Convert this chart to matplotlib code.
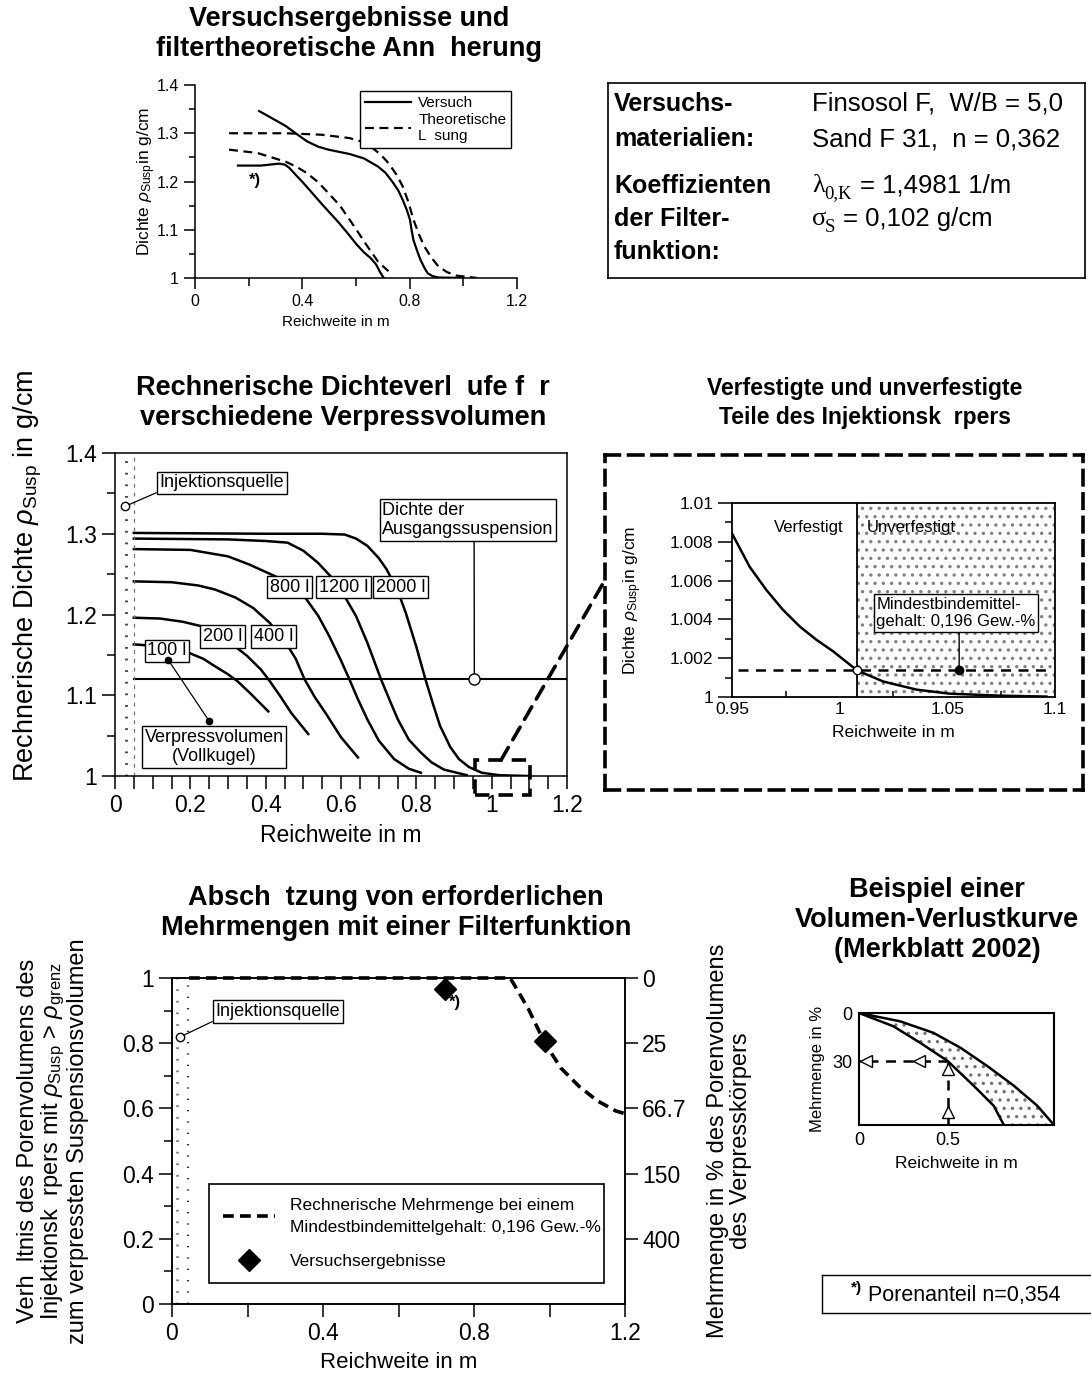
import numpy as np
import matplotlib
matplotlib.use('Agg')
import matplotlib.pyplot as plt
from matplotlib import font_manager
from matplotlib.patches import Rectangle, Polygon, ConnectionPatch
from matplotlib.lines import Line2D

# ---------------- data ----------------
# top left: test results vs. filter theory
vers_upper_x = [0.239, 0.30, 0.338, 0.38, 0.418, 0.46, 0.497, 0.576, 0.629, 0.682, 0.71, 0.735, 0.757, 0.774, 0.79, 0.801, 0.807, 0.814, 0.828, 0.84, 0.855, 0.867, 0.885, 0.907, 1.0]
vers_upper_y = [1.346, 1.327, 1.315, 1.298, 1.283, 1.272, 1.266, 1.257, 1.248, 1.231, 1.218, 1.200, 1.182, 1.162, 1.140, 1.121, 1.100, 1.079, 1.056, 1.038, 1.021, 1.010, 1.004, 1.001, 1.0]
vers_lower_x = [0.16, 0.246, 0.312, 0.335, 0.352, 0.375, 0.404, 0.47, 0.537, 0.57, 0.603, 0.63, 0.655, 0.675, 0.69, 0.702]
vers_lower_y = [1.233, 1.233, 1.237, 1.235, 1.228, 1.214, 1.197, 1.155, 1.114, 1.092, 1.069, 1.053, 1.041, 1.028, 1.012, 1.001]
theo_upper_x = [0.127, 0.338, 0.47, 0.576, 0.62, 0.655, 0.69, 0.721, 0.75, 0.774, 0.795, 0.814, 0.835, 0.854, 0.88, 0.907, 0.94, 0.973, 1.052]
theo_upper_y = [1.300, 1.300, 1.297, 1.290, 1.283, 1.272, 1.257, 1.238, 1.215, 1.190, 1.158, 1.121, 1.090, 1.066, 1.043, 1.024, 1.012, 1.005, 1.000]
theo_lower_x = [0.127, 0.233, 0.338, 0.38, 0.418, 0.46, 0.497, 0.54, 0.576, 0.61, 0.642, 0.682, 0.721]
theo_lower_y = [1.266, 1.259, 1.241, 1.230, 1.217, 1.198, 1.176, 1.150, 1.121, 1.093, 1.066, 1.034, 1.014]

# middle left: computed density curves per grouting volume
vol_labels = ['100 l', '200 l', '400 l', '800 l', '1200 l', '2000 l']
curve_x = [
    [0.05, 0.08, 0.194, 0.235, 0.265, 0.30, 0.326, 0.36, 0.407],
    [0.05, 0.12, 0.18, 0.225, 0.27, 0.306, 0.35, 0.387, 0.407, 0.44, 0.468, 0.513],
    [0.05, 0.15, 0.22, 0.265, 0.32, 0.367, 0.41, 0.448, 0.48, 0.503, 0.53, 0.559, 0.60, 0.645],
    [0.05, 0.20, 0.30, 0.356, 0.427, 0.47, 0.508, 0.54, 0.569, 0.60, 0.622, 0.645, 0.67, 0.70, 0.741, 0.78, 0.812],
    [0.05, 0.30, 0.40, 0.458, 0.50, 0.539, 0.589, 0.64, 0.67, 0.706, 0.73, 0.751, 0.78, 0.812, 0.84, 0.873, 0.934],
    [0.05, 0.40, 0.55, 0.61, 0.64, 0.67, 0.70, 0.721, 0.75, 0.772, 0.80, 0.824, 0.845, 0.863, 0.89, 0.913, 0.94, 0.974, 1.02, 1.096],
]
curve_y = [
    [1.163, 1.162, 1.153, 1.145, 1.136, 1.126, 1.117, 1.102, 1.080],
    [1.196, 1.195, 1.191, 1.186, 1.176, 1.165, 1.149, 1.132, 1.120, 1.098, 1.078, 1.052],
    [1.241, 1.240, 1.236, 1.231, 1.221, 1.208, 1.190, 1.169, 1.145, 1.120, 1.098, 1.078, 1.048, 1.023],
    [1.281, 1.280, 1.272, 1.262, 1.247, 1.236, 1.219, 1.198, 1.173, 1.143, 1.120, 1.095, 1.070, 1.044, 1.021, 1.009, 1.004],
    [1.294, 1.293, 1.291, 1.289, 1.279, 1.264, 1.239, 1.198, 1.165, 1.120, 1.093, 1.070, 1.045, 1.029, 1.017, 1.008, 1.001],
    [1.301, 1.300, 1.300, 1.299, 1.294, 1.285, 1.270, 1.256, 1.230, 1.202, 1.160, 1.120, 1.088, 1.062, 1.036, 1.021, 1.011, 1.004, 1.001, 1.000],
]
vol_label_x = [0.138, 0.286, 0.421, 0.464, 0.607, 0.758]
vol_label_y = [1.155, 1.173, 1.173, 1.234, 1.234, 1.234]
ausgang_x = [0.05, 1.2]
ausgang_y = [1.12, 1.12]

# middle right: zoom of the density tail
zoom_x = [0.95, 0.9582, 0.966, 0.9737, 0.9815, 0.9892, 0.997, 1.0081, 1.0202, 1.0357, 1.0512, 1.0744, 1.0961]
zoom_y = [1.00843, 1.00671, 1.00551, 1.00449, 1.00363, 1.00295, 1.00235, 1.00137, 1.0008, 1.00038, 1.00017, 1.00007, 1.00002]
grenz_x = 1.0081
grenz_y = 1.00137

# bottom left: required extra quantity
mehr_x = [0.045, 0.896, 0.92, 0.945, 0.987, 1.03, 1.078, 1.127, 1.176, 1.2]
mehr_y = [1.0, 1.0, 0.953, 0.903, 0.802, 0.724, 0.668, 0.623, 0.592, 0.584]
test_x = [0.723, 0.987]
test_y = [0.966, 0.808]
right_ticks = [1.0, 0.8, 0.6, 0.4, 0.2]
right_labels = ['0', '25', '66.7', '150', '400']

# bottom right: example volume loss curve
inner_x = [0.0, 0.194, 0.345, 0.5, 0.647, 0.76, 0.817]
inner_y = [0.0, 8.3, 18.6, 30.0, 45.5, 58.0, 70.0]
outer_x = [0.0, 0.232, 0.42, 0.572, 0.723, 0.874, 1.006, 1.1]
outer_y = [0.0, 5.2, 12.4, 21.7, 33.1, 45.5, 58.0, 70.0]

# ---------------- fonts ----------------
names = {f.name for f in font_manager.fontManager.ttflist}
SANS = 'Liberation Sans' if 'Liberation Sans' in names else 'DejaVu Sans'
NARROW = 'Liberation Sans Narrow' if 'Liberation Sans Narrow' in names else SANS
SERIF = 'Liberation Serif' if 'Liberation Serif' in names else 'DejaVu Serif'

plt.rcParams['font.family'] = [SANS, 'DejaVu Sans']
plt.rcParams['mathtext.fontset'] = 'custom'
plt.rcParams['mathtext.rm'] = SANS
plt.rcParams['mathtext.it'] = SANS + ':italic'
plt.rcParams['mathtext.bf'] = SANS + ':bold'
plt.rcParams['axes.linewidth'] = 1.1
plt.rcParams['hatch.linewidth'] = 1.2

W, H = 1091, 1386
fig = plt.figure(figsize=(W / 100, H / 100), dpi=100)


def box(l, t, r, b):
    return [l / W, 1 - b / H, (r - l) / W, (b - t) / H]


def fy(py):
    return 1 - py / H


def ticks(ax, size, major=9, minor=5):
    ax.tick_params(which='both', direction='out', labelsize=size, width=1.1)
    ax.tick_params(which='major', length=major)
    ax.tick_params(which='minor', length=minor)


label_box = dict(boxstyle='square,pad=0.15', fc='white', ec='black', lw=1.0)
title_kw = dict(ha='center', va='center', fontweight='bold', fontsize=19.5, linespacing=1.18)

# ---------------- top left ----------------
ax1 = fig.add_axes(box(195, 85, 517, 278))
ax1.plot(vers_upper_x, vers_upper_y, color='k', lw=1.6)
ax1.plot(vers_lower_x, vers_lower_y, color='k', lw=1.6)
ax1.plot(theo_upper_x, theo_upper_y, color='k', lw=1.6, dashes=(4, 2.5))
ax1.plot(theo_lower_x, theo_lower_y, color='k', lw=1.6, dashes=(4, 2.5))
ax1.text(0.222, 1.203, '*)', fontsize=12, fontweight='bold', ha='center', va='center')
ax1.set_xlim(0, 1.2)
ax1.set_ylim(1, 1.4)
ax1.set_xticks([0, 0.4, 0.8, 1.2], ['0', '0.4', '0.8', '1.2'])
ax1.set_xticks(np.arange(0, 1.21, 0.2), minor=True)
ax1.set_yticks([1, 1.1, 1.2, 1.3, 1.4], ['1', '1.1', '1.2', '1.3', '1.4'])
ax1.set_yticks(np.arange(1, 1.41, 0.05), minor=True)
ticks(ax1, 11.5, 8, 4.5)
ax1.tick_params(axis='x', which='minor', length=6)
ax1.spines['top'].set_visible(False)
ax1.spines['right'].set_visible(False)
fig.text(336 / W, fy(322), 'Reichweite in m', fontsize=11, ha='center', va='center')
ax1.text(-0.15, 0.5, r'Dichte $\rho_{\mathrm{Susp}}$in g/cm', rotation=90, transform=ax1.transAxes,
         ha='center', va='center', fontsize=12.5)
leg = ax1.legend([Line2D([], [], color='k', lw=1.6), Line2D([], [], color='k', lw=1.6, dashes=(4, 2.5))],
                 ['Versuch', 'Theoretische\nL  sung'], loc='upper right', bbox_to_anchor=(0.981, 0.967),
                 fontsize=11, frameon=True, fancybox=False, edgecolor='black', framealpha=1,
                 handlelength=3.0, handletextpad=0.5, borderpad=0.3, labelspacing=0.2, borderaxespad=0)
leg.get_frame().set_linewidth(1.0)
fig.text(349 / W, fy(34), 'Versuchsergebnisse und\nfiltertheoretische Ann  herung', **title_kw)

# ---------------- text box top right ----------------
axb = fig.add_axes(box(608, 83, 1085, 278))
axb.set_xticks([])
axb.set_yticks([])
axb.set_xlim(608, 1085)
axb.set_ylim(278, 83)
for s in axb.spines.values():
    s.set_linewidth(1.2)
bold_rows = [('Versuchs-', 104), ('materialien:', 139), ('Koeffizienten', 186), ('der Filter-', 219), ('funktion:', 252)]
for txt, py in bold_rows:
    axb.text(614, py, txt, fontsize=18, fontweight='bold', va='center', ha='left')
axb.text(812, 104, 'Finsosol F,  W/B = 5,0', fontsize=18.5, va='center', ha='left')
axb.text(812, 139, 'Sand F 31,  n = 0,362', fontsize=18.5, va='center', ha='left')
axb.text(812, 186, 'λ', fontsize=19, family=SERIF, va='center', ha='left')
axb.text(824, 194, '0,K', fontsize=13.5, family=SERIF, va='center', ha='left')
axb.text(860, 186, '= 1,4981 1/m', fontsize=18.5, va='center', ha='left')
axb.text(812, 219, 'σ', fontsize=19, family=SERIF, va='center', ha='left')
axb.text(825, 227, 'S', fontsize=13.5, family=SERIF, va='center', ha='left')
axb.text(843, 219, '= 0,102 g/cm', fontsize=18.5, va='center', ha='left')

# ---------------- middle left ----------------
ax2 = fig.add_axes(box(115, 453, 567, 776))
for xs, ys in zip(curve_x, curve_y):
    ax2.plot(xs, ys, color='k', lw=1.8)
ax2.plot(ausgang_x, ausgang_y, color='k', lw=1.5)
ax2.axvline(0.029, color='0.3', lw=2.2, ls=(0, (0.6, 3.2)))
ax2.axvline(0.05, color='0.45', lw=0.9, ls=(0, (3, 4)))
for lab, lx, ly in zip(vol_labels, vol_label_x, vol_label_y):
    ax2.text(lx, ly, lab, family=NARROW, fontsize=13, ha='center', va='center', bbox=label_box, zorder=5)
ax2.annotate('Injektionsquelle', xy=(0.027, 1.334), xytext=(0.118, 1.363), family=NARROW, fontsize=13,
             ha='left', va='center', bbox=label_box,
             arrowprops=dict(arrowstyle='-', lw=0.9, color='k', shrinkA=0, shrinkB=3, relpos=(0, 0)))
ax2.plot([0.027], [1.334], 'o', ms=6, mfc='white', mec='k', mew=1.0)
ax2.annotate('Dichte der\nAusgangssuspension', xy=(0.954, 1.12), xytext=(0.937, 1.317), family=NARROW,
             fontsize=13, ha='center', va='center', multialignment='left', bbox=dict(label_box, pad=0.3),
             arrowprops=dict(arrowstyle='-', lw=1.0, color='k', shrinkA=0, shrinkB=4, relpos=(0.536, 0)))
ax2.plot([0.954], [1.12], 'o', ms=8, mfc='white', mec='k', mew=1.0, zorder=6)
ax2.text(0.263, 1.036, 'Verpressvolumen\n(Vollkugel)', family=NARROW, fontsize=13, ha='center', va='center',
         bbox=dict(label_box, pad=0.3), zorder=5)
ax2.plot([0.141, 0.25], [1.144, 1.068], color='k', lw=0.9, marker='o', ms=4.5, zorder=6)
ax2.add_patch(Rectangle((0.957, 0.9765), 0.144, 0.0433, fill=False, ec='k', lw=2.6,
                        ls=(0, (4, 2.5)), clip_on=False, zorder=7))
ax2.set_xlim(0, 1.2)
ax2.set_ylim(1, 1.4)
ax2.set_xticks(np.arange(0, 1.21, 0.2), ['0', '0.2', '0.4', '0.6', '0.8', '1', '1.2'])
ax2.set_xticks(np.arange(0, 1.21, 0.05), minor=True)
ax2.set_yticks([1, 1.1, 1.2, 1.3, 1.4], ['1', '1.1', '1.2', '1.3', '1.4'])
ax2.set_yticks(np.arange(1, 1.41, 0.05), minor=True)
ticks(ax2, 16.5, 9.5, 5.5)
ax2.tick_params(axis='x', which='minor', length=9.5)
ax2.set_xlabel('Reichweite in m', fontsize=16.5, labelpad=5)
ax2.text(-0.193, 0.62, r'Rechnerische Dichte $\rho_{\mathrm{Susp}}$ in g/cm', rotation=90,
         transform=ax2.transAxes, ha='center', va='center', fontsize=19.5)
fig.text(343 / W, fy(403), 'Rechnerische Dichteverl  ufe f  r\nverschiedene Verpressvolumen', **title_kw)

# ---------------- middle right ----------------
axf = fig.add_axes(box(605, 455, 1083, 790))
axf.set_xticks([])
axf.set_yticks([])
axf.patch.set_alpha(0)
for s in axf.spines.values():
    s.set_linewidth(2.6)
    s.set_linestyle((0, (4, 2.5)))

con = ConnectionPatch(xyA=(1.025, 1.0198), coordsA=ax2.transData, xyB=(0, (790 - 580) / 335),
                      coordsB=axf.transAxes, color='k', lw=2.6, ls=(0, (4, 2.5)))
fig.add_artist(con)

ax3 = fig.add_axes(box(732, 503, 1055, 697))
ax3.axvspan(grenz_x, 1.1, facecolor='none', edgecolor='0.5', hatch='..', lw=0)
ax3.axvline(grenz_x, color='k', lw=1.3)
ax3.plot(zoom_x, zoom_y, color='k', lw=1.8)
ax3.plot([0.9528, 1.0985], [grenz_y, grenz_y], color='k', lw=1.8, dashes=(4, 3))
ax3.plot([grenz_x], [grenz_y], 'o', ms=6, mfc='white', mec='k', mew=1.0, zorder=6)
ax3.annotate('Mindestbindemittel-\ngehalt: 0,196 Gew.-%', xy=(1.0555, grenz_y), xytext=(1.054, 1.00433),
             fontsize=12, ha='center', va='center', multialignment='left',
             bbox=dict(label_box, pad=0.3),
             arrowprops=dict(arrowstyle='-', lw=1.0, color='k', shrinkA=0, shrinkB=0, relpos=(0.52, 0)))
ax3.plot([1.0555], [grenz_y], 'o', ms=6, color='k', zorder=6)
ax3.text(0.9858, 1.00873, 'Verfestigt', fontsize=12, ha='center', va='center')
ax3.text(1.0124, 1.00873, 'Unverfestigt', fontsize=12, ha='left', va='center')
ax3.set_xlim(0.95, 1.1)
ax3.set_ylim(1, 1.01)
ax3.set_xticks([0.95, 1.0, 1.05, 1.1], ['0.95', '1', '1.05', '1.1'])
ax3.set_xticks([0.975, 1.025, 1.075], minor=True)
ax3.set_yticks([1, 1.002, 1.004, 1.006, 1.008, 1.01], ['1', '1.002', '1.004', '1.006', '1.008', '1.01'])
ax3.set_yticks(np.arange(1.001, 1.0100, 0.002), minor=True)
ticks(ax3, 12.5, 10, 5)
ax3.tick_params(axis='x', which='major', length=0)
ax3.tick_params(axis='x', which='minor', direction='in', length=4)
for s in ax3.spines.values():
    s.set_linewidth(1.3)
ax3.set_xlabel('Reichweite in m', fontsize=12.5, labelpad=6)
ax3.text(-0.306, 0.5, r'Dichte $\rho_{\mathrm{Susp}}$in g/cm', rotation=90, transform=ax3.transAxes,
         ha='center', va='center', fontsize=12.5)
fig.text(865 / W, fy(403), 'Verfestigte und unverfestigte\nTeile des Injektionsk  rpers',
         ha='center', va='center', fontweight='bold', fontsize=16.5, linespacing=1.3)

# ---------------- bottom left ----------------
ax4 = fig.add_axes(box(172, 978, 625, 1304))
ax4.axvline(0.014, color='0.55', lw=2.2, ls=(0, (0.6, 3.2)))
ax4.axvline(0.043, color='0.2', lw=1.6, ls=(0, (0.6, 4.5)))
ax4.plot(mehr_x, mehr_y, color='k', lw=2.6, dashes=(3, 1.7), clip_on=False)
ax4.plot(test_x, test_y, 'D', color='k', ms=11, ls='none', clip_on=False)
ax4.text(0.75, 0.925, '*)', fontsize=12, fontweight='bold', ha='center', va='center')
ax4.annotate('Injektionsquelle', xy=(0.021, 0.819), xytext=(0.115, 0.897), family=NARROW, fontsize=13,
             ha='left', va='center', bbox=label_box,
             arrowprops=dict(arrowstyle='-', lw=0.9, color='k', shrinkA=0, shrinkB=3, relpos=(0, 0)))
ax4.plot([0.021], [0.819], 'o', ms=6, mfc='white', mec='k', mew=1.0)
leg4 = ax4.legend([Line2D([], [], color='k', lw=2.6, dashes=(3, 1.7)),
                   Line2D([], [], color='k', marker='D', ms=11, ls='none')],
                  ['Rechnerische Mehrmenge bei einem\nMindestbindemittelgehalt: 0,196 Gew.-%',
                   'Versuchsergebnisse'],
                  loc='lower left', bbox_to_anchor=(0.081, 0.065, 0.873, 0.325), mode='expand',
                  prop={'family': NARROW, 'size': 12.5}, frameon=True, fancybox=False, edgecolor='black',
                  framealpha=1, handlelength=3.0, handletextpad=0.9, borderpad=0.8, labelspacing=1.1,
                  borderaxespad=0)
for t in leg4.get_texts():
    t.set_linespacing(1.55)
leg4.get_frame().set_linewidth(1.2)
ax4.set_xlim(0, 1.2)
ax4.set_ylim(0, 1)
ax4.set_xticks([0, 0.4, 0.8, 1.2], ['0', '0.4', '0.8', '1.2'])
ax4.set_xticks(np.arange(0, 1.21, 0.2), minor=True)
ax4.set_yticks(np.arange(0, 1.01, 0.2), ['0', '0.2', '0.4', '0.6', '0.8', '1'])
ax4.set_yticks(np.arange(0, 1.01, 0.1), minor=True)
ticks(ax4, 16.5, 9.5, 5.5)
ax4.tick_params(axis='x', which='minor', length=9.5)
ax4.set_xlabel('Reichweite in m', fontsize=16, labelpad=5)
ax4.text(-0.262, 0.5, 'Verh  ltnis des Porenvolumens des\nInjektionsk  rpers mit $\\rho_{\\mathrm{Susp}}$ > $\\rho_{\\mathrm{grenz}}$\nzum verpressten Suspensionsvolumen',
         rotation=90, transform=ax4.transAxes, ha='center', va='center', fontsize=17, linespacing=1.02)
ax4r = ax4.twinx()
ax4r.set_ylim(0, 1)
ax4r.set_yticks(right_ticks, right_labels)
ax4r.tick_params(direction='out', labelsize=16.5, length=9, width=1.1)
ax4.text(1.23, 0.5, 'Mehrmenge in % des Porenvolumens\ndes Verpresskörpers', rotation=90,
         transform=ax4.transAxes, ha='center', va='center', fontsize=17, linespacing=1.05)
fig.text(396 / W, fy(913), 'Absch  tzung von erforderlichen\nMehrmengen mit einer Filterfunktion', **title_kw)

# ---------------- bottom right ----------------
ax5 = fig.add_axes(box(859, 1013, 1054, 1125))
band = np.column_stack([np.concatenate([inner_x, outer_x[::-1]]), np.concatenate([inner_y, outer_y[::-1]])])
ax5.add_patch(Polygon(band, closed=True, facecolor='none', edgecolor='0.45', hatch='..', lw=0))
ax5.plot(inner_x, inner_y, color='k', lw=1.8)
ax5.plot(outer_x, outer_y, color='k', lw=1.8)
ax5.plot([0.5, 0.5], [70, 30], color='k', lw=1.8, dashes=(4, 3))
ax5.plot([0.5, 0.0], [30, 30], color='k', lw=1.8, dashes=(4, 3))
ax5.plot([0.5, 0.5], [35.2, 62.0], '^', ms=8, mfc='white', mec='k', mew=1.0)
ax5.plot([0.336, 0.04], [30, 30], '<', ms=8, mfc='white', mec='k', mew=1.0)
ax5.set_xlim(0, 1.1)
ax5.set_ylim(70, 0)
ax5.set_xticks([0, 0.5], ['0', '0.5'])
ax5.set_yticks([0, 30], ['0', '30'])
ax5.tick_params(direction='out', length=0, labelsize=13, pad=5)
for s in ax5.spines.values():
    s.set_linewidth(1.5)
ax5.set_xlabel('Reichweite in m', fontsize=12.5, labelpad=5)
ax5.text(-0.215, 0.5, 'Mehrmenge in %', rotation=90, transform=ax5.transAxes,
         ha='center', va='center', fontsize=12)
fig.text(937 / W, fy(920), 'Beispiel einer\nVolumen-Verlustkurve\n(Merkblatt 2002)',
         ha='center', va='center', fontweight='bold', fontsize=19.5, linespacing=1.22)

# ---------------- footnote ----------------
ax6 = fig.add_axes(box(822, 1275, 1100, 1313))
ax6.set_xticks([])
ax6.set_yticks([])
ax6.set_xlim(822, 1100)
ax6.set_ylim(1313, 1275)
for s in ax6.spines.values():
    s.set_linewidth(1.0)
ax6.text(851, 1288, '*)', fontsize=11, fontweight='bold', ha='left', va='center')
ax6.text(868, 1295, 'Porenanteil n=0,354', fontsize=15.5, ha='left', va='center')

fig.savefig('out.png', dpi=100)
